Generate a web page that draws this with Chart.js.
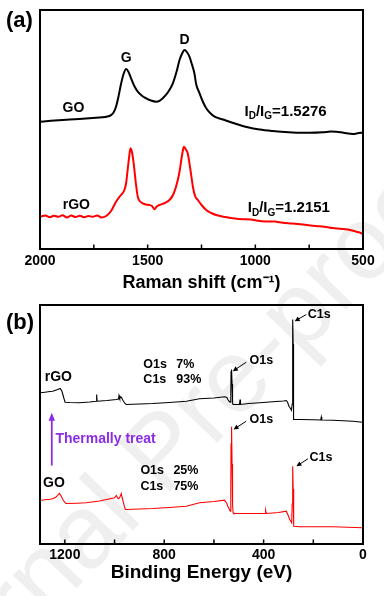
<!DOCTYPE html>
<html><head><meta charset="utf-8">
<script src="https://cdn.jsdelivr.net/npm/chart.js@4.4.1/dist/chart.umd.min.js"></script>
<style>
html,body{margin:0;padding:0;background:#fff;}
#wrap{position:relative;width:384px;height:596px;overflow:hidden;background:#fff;}
#wrap canvas{position:absolute;left:0;}
</style></head><body>
<div id="wrap">
<canvas id="wm" width="384" height="596" style="top:0"></canvas>
<canvas id="ca" width="384" height="298" style="top:0"></canvas>
<canvas id="cb" width="384" height="298" style="top:298px"></canvas>
</div>
<script>
const FONT = "'Liberation Sans', Arial, Helvetica, sans-serif";

// ---------- (a) Raman spectra ----------
const ramanShiftGO = [2000,1950,1895,1817,1740,1678,1660,1647,1635,1623,1612,1600,1590,1577,1562,1546,1525,1507,1485,1461,1445,1430,1405,1383,1365,1352,1340,1329,1318,1306,1295,1283,1275,1259,1245,1228,1210,1189,1150,1120,1080,1035,980,918,860,810,750,686,650,624,590,546,520,503];
const ramanIntensityGO = [127.3,128.2,129,130,131.3,133,136,142.3,153,165.7,175,180,177.5,170.7,163,157.3,153,150.7,148.5,147.3,148.2,150.7,157,165.7,178,189,195.5,199,197,192.3,185,175.7,165,155.7,148,140.7,136,132.3,129.5,127.3,124.5,121.7,119.5,118,117,116.3,116.2,116.7,117.5,117.3,116.2,115,116,116.3];
const ramanShiftRGO = [2000,1975,1955,1935,1915,1895,1875,1855,1835,1815,1795,1775,1755,1735,1715,1693,1670,1647,1628,1608,1600,1593,1586,1580,1573,1565,1556,1546,1535,1523,1508,1492,1480,1468,1458,1445,1420,1399,1380,1360,1350,1344,1337,1332,1324,1314,1302,1290,1280,1267,1250,1228,1205,1182,1140,1104,1058,1020,996,950,910,873,830,780,720,680,640,608,570,531,515,503];
const ramanIntensityRGO = [32.3,33.5,31.8,33.2,32.2,33.8,31.5,33.5,32,33.2,31.8,33,32.2,33.6,31.6,33,38,47.3,53,59,66,79,92,100.7,97,85.7,68,52.3,47.5,45.7,44.5,44,43,39.7,42.5,44,46,49,55,69,80,89,98,102.3,100,95.7,80,62.3,53,49,44,39,36,34,32,30.7,29.7,29.5,28.5,27.5,27.4,26.2,25.5,24.5,22.9,22.3,21,20.3,19.5,17.3,16.5,15];
const ramanTickLabels = [2000,1500,1000,500];
const ramanTickMarks = [2000,1750,1500,1250,1000,750,500];
const ramanRatioGO = '1.5276';
const ramanRatioRGO = '1.2151';

// ---------- (b) XPS survey ----------
const xpsEnergyRGO = [1300,1280,1260,1249,1229,1219,1212,1208,1203,1199,1180,1141,1100,1074,1072,1070,1030,993,984,982,979,975,972,968,964,958,953,900,846,780,711,658,600,557,548,544,538,534,532,531,529,527,525,523,510,497,495,493,460,430,389,350,320,309,304,298,292,288,285,284,283,282,281,280,279,275,255,200,170,168,166,121,80,40,2,0];
const xpsCountsRGO = [151.2,151.8,152.5,152.8,154.5,155.5,153,149.5,145,141.8,141.5,141.2,142,142.8,149.5,142.8,143.5,144.5,145,148.5,145.5,147,146.5,144.5,142.8,140.5,139.5,140,140.5,141.5,142.8,145.2,146,147.2,146.5,144.5,142.5,141.8,150,172.5,174.5,160,141,139.5,139.5,139.5,144.5,139.5,140.5,141,141.8,142.5,143,143.5,142,137.8,135.5,133.8,140,164.5,210,224.5,200,150,124.5,124.5,124.5,124.3,124,127,124,123.8,123.2,122.8,121.8,121.6];
const xpsEnergyGO = [1300,1280,1260,1249,1235,1222,1215,1208,1200,1195,1150,1114,1060,1000,993,985,980,975,973,969,964,960,956,900,846,780,711,658,600,557,548,544,534,532,531,529,527,525,523,520,450,394,392,389,340,309,300,295,290,287,285,283,281,280,278,255,200,121,60,2,0];
const xpsCountsGO = [43.5,44.3,44.8,45.2,47,50.5,48,44.5,41.5,40.5,40.8,41.2,43,46.2,48.5,45.2,46,49,50.5,46,41.2,37,34.5,35,35.5,36.5,37.8,41.2,42.5,43.8,40.5,37.8,32.8,60,100,117.2,80,40,31.5,30.5,30.5,30.5,33.8,30.5,31.5,32.8,28,24.5,22.5,21.2,40,77.8,55,30,17.8,17.2,17.2,17.2,16.8,16.2,16];
const xpsTickLabels = [1200,800,400,0];
const xpsTickMarks = [1200,1000,800,600,400,200,0];
const xpsCompositionRGO = [['O1s','7%'],['C1s','93%']];
const xpsCompositionGO = [['O1s','25%'],['C1s','75%']];

// ---------- annotation anchors (data space) ----------
const ramanLabels = [
  {text:'G', x:1600, y:191}, {text:'D', x:1329, y:209},
  {text:'GO', x:1845, y:140.5}, {text:'rGO', x:1831, y:43.5}
];
const ramanRatioAnchors = [{x:1050, y:139, value:ramanRatioGO}, {x:1035, y:42.5, value:ramanRatioRGO}];
const xpsSampleLabels = [{text:'rGO', x:1226, y:166.5}, {text:'GO', x:1244, y:61}];
const xpsCompositionAnchors = [{x:884, y:179.8, rows:xpsCompositionRGO}, {x:896, y:73.2, rows:xpsCompositionGO}];
const xpsCallouts = [
  {text:'O1s', lx:457, ly:183.2, ax:470, ay:181.8, bx:524, by:172.8},
  {text:'O1s', lx:457, ly:124, ax:470, ay:122.8, bx:521, by:114.5},
  {text:'C1s', lx:222, ly:229.8, ax:228, ay:229.5, bx:275, by:222.8},
  {text:'C1s', lx:215, ly:86.5, ax:221.5, ay:85.2, bx:268, by:77.8}
];
const treatArrow = {x:1252.6, y1:78.5, y2:131.2, text:'Thermally treat', tx:1238, ty:105};

function pts(xs, ys){ return xs.map((v,i)=>({x:v, y:ys[i]})); }

function drawRatio(ctx, x0, yc, val){
  const big = `bold 15px ${FONT}`, small = `bold 10px ${FONT}`;
  ctx.textAlign = 'left'; ctx.textBaseline = 'alphabetic';
  const base = yc + 5.5;
  let x = x0;
  const seg = (t, f, dy) => { ctx.font = f; ctx.fillText(t, x, base + dy); x += ctx.measureText(t).width; };
  seg('I', big, 0); seg('D', small, 3.5); seg('/I', big, 0); seg('G', small, 3.5); seg('=' + val, big, 0);
}

function arrowLine(ctx, x1, y1, x2, y2, color, lw, hl, hw){
  const ang = Math.atan2(y2 - y1, x2 - x1);
  ctx.strokeStyle = color; ctx.fillStyle = color; ctx.lineWidth = lw;
  ctx.beginPath(); ctx.moveTo(x1, y1);
  ctx.lineTo(x2 - Math.cos(ang) * hl * 0.8, y2 - Math.sin(ang) * hl * 0.8); ctx.stroke();
  ctx.beginPath(); ctx.moveTo(x2, y2);
  ctx.lineTo(x2 - hl * Math.cos(ang) + hw * Math.sin(ang), y2 - hl * Math.sin(ang) - hw * Math.cos(ang));
  ctx.lineTo(x2 - hl * Math.cos(ang) - hw * Math.sin(ang), y2 - hl * Math.sin(ang) + hw * Math.cos(ang));
  ctx.closePath(); ctx.fill();
}

function frameAndTicks(chart, marks){
  const {ctx, chartArea:a, scales:{x}} = chart;
  ctx.strokeStyle = '#000'; ctx.lineWidth = 1.5;
  marks.forEach(v => {
    const px = x.getPixelForValue(v);
    ctx.beginPath(); ctx.moveTo(px, a.bottom); ctx.lineTo(px, a.bottom - 4.5); ctx.stroke();
  });
  ctx.lineWidth = 2;
  ctx.strokeRect(a.left, a.top, a.right - a.left, a.bottom - a.top);
}

const ramanPlugin = {
  id: 'ramanDecor',
  afterDraw(chart){
    const {ctx, scales:{x, y}} = chart;
    ctx.save();
    frameAndTicks(chart, ramanTickMarks);
    ctx.fillStyle = '#000'; ctx.font = `bold 14px ${FONT}`; ctx.textAlign = 'center'; ctx.textBaseline = 'middle';
    ramanLabels.forEach(l => ctx.fillText(l.text, x.getPixelForValue(l.x), y.getPixelForValue(l.y)));
    ramanRatioAnchors.forEach(r => drawRatio(ctx, x.getPixelForValue(r.x), y.getPixelForValue(r.y), r.value));
    ctx.font = `bold 22px ${FONT}`; ctx.textAlign = 'left'; ctx.textBaseline = 'middle';
    ctx.fillText('(a)', 6, 21);
    ctx.restore();
  }
};

const xpsPlugin = {
  id: 'xpsDecor',
  afterDraw(chart){
    const {ctx, scales:{x, y}} = chart;
    ctx.save();
    frameAndTicks(chart, xpsTickMarks);
    ctx.fillStyle = '#000'; ctx.font = `bold 14px ${FONT}`; ctx.textAlign = 'center'; ctx.textBaseline = 'middle';
    xpsSampleLabels.forEach(l => ctx.fillText(l.text, x.getPixelForValue(l.x), y.getPixelForValue(l.y)));
    ctx.font = `bold 12.5px ${FONT}`; ctx.textAlign = 'left';
    xpsCompositionAnchors.forEach(c => {
      const px = x.getPixelForValue(c.x), py = y.getPixelForValue(c.y);
      c.rows.forEach((r, i) => {
        ctx.fillText(r[0], px, py + i * 15.8);
        ctx.fillText(r[1], px + 33, py + i * 15.8);
      });
    });
    xpsCallouts.forEach(c => {
      ctx.fillStyle = '#000';
      ctx.font = `bold 12.5px ${FONT}`; ctx.textAlign = 'left'; ctx.textBaseline = 'middle';
      ctx.fillText(c.text, x.getPixelForValue(c.lx), y.getPixelForValue(c.ly));
      arrowLine(ctx, x.getPixelForValue(c.ax), y.getPixelForValue(c.ay), x.getPixelForValue(c.bx), y.getPixelForValue(c.by), '#000', 1, 5, 2.5);
    });
    const purple = '#8c2be6';
    const ax = x.getPixelForValue(treatArrow.x);
    arrowLine(ctx, ax, y.getPixelForValue(treatArrow.y1), ax, y.getPixelForValue(treatArrow.y2), purple, 1.8, 8, 3.2);
    ctx.fillStyle = purple; ctx.font = `bold 14px ${FONT}`; ctx.textAlign = 'left'; ctx.textBaseline = 'middle';
    ctx.fillText(treatArrow.text, x.getPixelForValue(treatArrow.tx), y.getPixelForValue(treatArrow.ty));
    ctx.fillStyle = '#000'; ctx.font = `bold 22px ${FONT}`;
    ctx.fillText('(b)', 6, 25);
    ctx.restore();
  }
};

// watermark
(function(){
  const c = document.getElementById('wm').getContext('2d');
  c.save(); c.translate(164, 498); c.rotate(-46 * Math.PI / 180);
  c.font = `104px ${FONT}`; c.fillStyle = '#efefef';
  c.textBaseline = 'alphabetic';
  c.textAlign = 'left'; c.fillText('Pre-proof', 0, 0);
  c.textAlign = 'right'; c.fillText('Journal ', 0, 0);
  c.restore();
})();

const tickFont = {family: FONT, size: 14, weight: 'bold'};
const titleFont = {family: FONT, size: 18, weight: 'bold'};
const plainNum = v => String(v);

new Chart(document.getElementById('ca'), {
  type: 'line',
  data: { datasets: [
    {data: pts(ramanShiftGO, ramanIntensityGO), borderColor:'#000', borderWidth:2, pointRadius:0, cubicInterpolationMode:'monotone', fill:false},
    {data: pts(ramanShiftRGO, ramanIntensityRGO), borderColor:'#ff0000', borderWidth:2, pointRadius:0, cubicInterpolationMode:'monotone', fill:false}
  ]},
  options: {
    responsive:false, animation:false, devicePixelRatio:1,
    layout:{padding:{top:10, left:40, right:21, bottom:0}},
    plugins:{legend:{display:false}, tooltip:{enabled:false}},
    scales:{
      x:{type:'linear', reverse:true, min:500, max:2000,
        afterBuildTicks: s => { s.ticks = ramanTickLabels.map(v => ({value:v})); },
        afterFit: s => { s.height = 49; },
        grid:{display:false, drawTicks:false}, border:{display:false},
        ticks:{padding:4, color:'#000', font:tickFont, maxRotation:0, autoSkip:false, callback: plainNum},
        title:{display:true, text:'Raman shift (cm\u207B\u00B9)', color:'#000', font:titleFont, padding:{top:0, bottom:4}}},
      y:{display:false, min:0, max:239}
    }
  },
  plugins:[ramanPlugin]
});

new Chart(document.getElementById('cb'), {
  type: 'line',
  data: { datasets: [
    {data: pts(xpsEnergyRGO, xpsCountsRGO), borderColor:'#000', borderWidth:1.1, pointRadius:0, tension:0, fill:false},
    {data: pts(xpsEnergyGO, xpsCountsGO), borderColor:'#ff0000', borderWidth:1.1, pointRadius:0, tension:0, fill:false}
  ]},
  options: {
    responsive:false, animation:false, devicePixelRatio:1,
    layout:{padding:{top:7, left:40, right:21, bottom:0}},
    plugins:{legend:{display:false}, tooltip:{enabled:false}},
    scales:{
      x:{type:'linear', reverse:true, min:0, max:1300,
        afterBuildTicks: s => { s.ticks = xpsTickLabels.map(v => ({value:v})); },
        afterFit: s => { s.height = 52; },
        grid:{display:false, drawTicks:false}, border:{display:false},
        ticks:{padding:3, color:'#000', font:tickFont, maxRotation:0, autoSkip:false, callback: plainNum},
        title:{display:true, text:'Binding Energy (eV)', color:'#000', font:{family:FONT, size:19, weight:'bold'}, padding:{top:0, bottom:12}}},
      y:{display:false, min:0, max:239}
    }
  },
  plugins:[xpsPlugin]
});
</script>
</body></html>
